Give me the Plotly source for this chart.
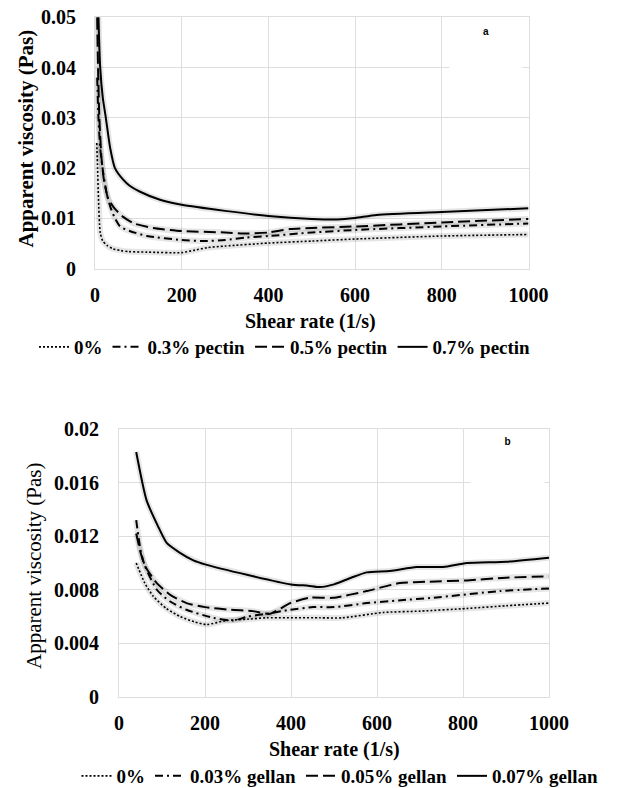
import plotly.graph_objects as go

# ---------------- data: panel a (pectin) ----------------
pectin_names = ["0%", "0.3% pectin", "0.5% pectin", "0.7% pectin"]
p0_x = [4, 6, 8, 12, 18, 27, 40, 60, 78, 120, 200, 230, 260, 300, 400, 500, 600, 800, 1000]
p0_y = [0.025, 0.020, 0.014, 0.0072, 0.0055, 0.0047, 0.0040, 0.0036, 0.0034, 0.0033, 0.0032, 0.0037,
        0.0042, 0.0045, 0.0051, 0.0055, 0.0059, 0.0065, 0.0068]
p3_x = [5, 8, 12, 19, 27, 35, 45, 58, 80, 120, 200, 250, 300, 350, 400, 500, 600, 800, 1000]
p3_y = [0.038, 0.030, 0.024, 0.019, 0.015, 0.0124, 0.0102, 0.0084, 0.0075, 0.0065, 0.0057, 0.0055,
        0.0057, 0.0062, 0.0065, 0.0072, 0.0077, 0.0084, 0.0090]
p5_x = [5, 7, 10, 15, 20, 30, 45, 65, 90, 134, 200, 300, 350, 400, 450, 500, 600, 800, 1000]
p5_y = [0.050, 0.040, 0.030, 0.022, 0.018, 0.014, 0.012, 0.0103, 0.0090, 0.0081, 0.0075, 0.0072,
        0.0070, 0.0072, 0.0079, 0.0081, 0.0084, 0.0092, 0.0099]
p7_x = [5, 8, 12, 18, 25, 35, 46, 65, 80, 104, 150, 200, 300, 400, 500, 560, 600, 650, 800, 1000]
p7_y = [0.065, 0.050, 0.040, 0.034, 0.030, 0.024, 0.020, 0.0177, 0.0165, 0.0153, 0.0137, 0.0127,
        0.0115, 0.0105, 0.0099, 0.0098, 0.0101, 0.0107, 0.0113, 0.0120]

# ---------------- data: panel b (gellan) ----------------
gellan_names = ["0%", "0.03% gellan", "0.05% gellan", "0.07% gellan"]
g0_x = [40, 60, 80, 110, 142, 175, 204, 250, 300, 343, 467, 520, 615, 700, 809, 900, 1000]
g0_y = [0.0100, 0.0085, 0.0075, 0.0066, 0.0060, 0.0056, 0.0054, 0.0057, 0.0058, 0.0059, 0.0059,
        0.0059, 0.0063, 0.0064, 0.0066, 0.0068, 0.0070]
g3_x = [40, 50, 60, 88, 120, 157, 219, 266, 300, 343, 398, 452, 500, 576, 650, 731, 886, 1000]
g3_y = [0.0132, 0.0110, 0.0098, 0.0080, 0.0071, 0.0065, 0.0059, 0.0057, 0.0060, 0.0062, 0.0065,
        0.0067, 0.0067, 0.0070, 0.0072, 0.0074, 0.0079, 0.0081]
g5_x = [40, 50, 60, 88, 120, 157, 200, 260, 312, 351, 398, 444, 498, 576, 653, 720, 809, 900, 1000]
g5_y = [0.0122, 0.0108, 0.0098, 0.0085, 0.0076, 0.0070, 0.0067, 0.0065, 0.0064, 0.0062, 0.0070,
        0.0074, 0.0074, 0.0079, 0.0085, 0.0086, 0.0087, 0.0089, 0.0090]
g7_x = [40, 64, 90, 111, 140, 173, 200, 300, 400, 440, 467, 500, 540, 576, 630, 692, 754, 809, 902, 1000]
g7_y = [0.0183, 0.0147, 0.0128, 0.0115, 0.0108, 0.0102, 0.0099, 0.0091, 0.0084, 0.0083, 0.0082,
        0.0084, 0.0089, 0.0093, 0.0094, 0.0097, 0.0097, 0.0100, 0.0101, 0.0104]

a_yticks = [0, 0.01, 0.02, 0.03, 0.04, 0.05]
a_yticktext = ["0", "0.01", "0.02", "0.03", "0.04", "0.05"]
b_yticks = [0, 0.004, 0.008, 0.012, 0.016, 0.02]
b_yticktext = ["0", "0.004", "0.008", "0.012", "0.016", "0.02"]
xticks = [0, 200, 400, 600, 800, 1000]

W, H = 622, 788
SERIF = "Liberation Serif"
GRID = "#dedede"
dashes = ["2px,2px", "8px,4px,2px,4px", "12px,5px", "solid"]
widths = [1.6, 2, 2, 2]

fig = go.Figure()

def add_panel(xs, ys, names, xa, ya, legend):
    for i, (x, y, n) in enumerate(zip(xs, ys, names)):
        fig.add_trace(go.Scatter(x=x, y=y, mode="lines", xaxis=xa, yaxis=ya,
                                 line=dict(color="rgba(0,0,0,0.10)", width=6, shape="spline", smoothing=0.6),
                                 showlegend=False, hoverinfo="skip"))
    for i, (x, y, n) in enumerate(zip(xs, ys, names)):
        fig.add_trace(go.Scatter(x=x, y=y, mode="lines", name=n, xaxis=xa, yaxis=ya, legend=legend,
                                 line=dict(color="black", width=widths[i], dash=dashes[i],
                                           shape="spline", smoothing=0.6)))

add_panel([p0_x, p3_x, p5_x, p7_x], [p0_y, p3_y, p5_y, p7_y], pectin_names, "x", "y", "legend")
add_panel([g0_x, g3_x, g5_x, g7_x], [g0_y, g3_y, g5_y, g7_y], gellan_names, "x2", "y2", "legend2")

def px_x(p):
    return p / W

def px_y(p):
    return 1 - p / H

tickfont = dict(family=SERIF, size=20, color="black", weight="bold")

axis_common = dict(showgrid=True, gridcolor=GRID, gridwidth=1, showline=True, linecolor=GRID,
                   linewidth=1, mirror=True, zeroline=False, ticks="", fixedrange=True,
                   automargin=False, tickfont=tickfont)

fig.update_layout(
    width=W, height=H, margin=dict(l=0, r=0, t=0, b=0, autoexpand=False),
    paper_bgcolor="white", plot_bgcolor="white",
    xaxis=dict(domain=[px_x(95), px_x(528.5)], anchor="y", range=[0, 1000], tickvals=xticks,
               ticklabelstandoff=8, **axis_common),
    yaxis=dict(domain=[px_y(268.7), px_y(17.3)], anchor="x", range=[0, 0.05], tickvals=a_yticks,
               ticktext=a_yticktext, ticklabelstandoff=14, **axis_common),
    xaxis2=dict(domain=[px_x(119), px_x(549)], anchor="y2", range=[0, 1000], tickvals=xticks,
                ticklabelstandoff=8, **axis_common),
    yaxis2=dict(domain=[px_y(696.7), px_y(429.3)], anchor="x2", range=[0, 0.02], tickvals=b_yticks,
                ticktext=b_yticktext, ticklabelstandoff=15, **axis_common),
    legend=dict(orientation="h", x=px_x(285), xanchor="center", y=px_y(347), yanchor="middle",
                font=dict(family=SERIF, size=19, color="black", weight="bold"),
                bgcolor="rgba(0,0,0,0)", traceorder="normal"),
    legend2=dict(orientation="h", x=px_x(340), xanchor="center", y=px_y(776), yanchor="middle",
                 font=dict(family=SERIF, size=19, color="black", weight="bold"),
                 bgcolor="rgba(0,0,0,0)", traceorder="normal"),
    showlegend=True,
)

ann = [
    dict(text="Shear rate (1/s)", x=px_x(310), y=px_y(321), xref="paper", yref="paper",
         showarrow=False, xanchor="center", yanchor="middle",
         font=dict(family=SERIF, size=20, color="black", weight="bold")),
    dict(text="Apparent viscosity (Pas)", x=px_x(25.5), y=px_y(139), xref="paper", yref="paper",
         showarrow=False, textangle=-90, xanchor="center", yanchor="middle",
         font=dict(family=SERIF, size=21, color="black", weight="bold")),
    dict(text="Shear rate (1/s)", x=px_x(334), y=px_y(749), xref="paper", yref="paper",
         showarrow=False, xanchor="center", yanchor="middle",
         font=dict(family=SERIF, size=20, color="black", weight="bold")),
    dict(text="Apparent viscosity (Pas)", x=px_x(34), y=px_y(566), xref="paper", yref="paper",
         showarrow=False, textangle=-90, xanchor="center", yanchor="middle",
         font=dict(family=SERIF, size=21, color="black")),
    dict(text="a", x=px_x(486), y=px_y(24), xref="paper", yref="paper", showarrow=False,
         xanchor="center", yanchor="top", width=70, height=52, valign="top", bgcolor="white",
         font=dict(family="Liberation Sans", size=10, color="black", weight="bold")),
    dict(text="b", x=px_x(507.5), y=px_y(434), xref="paper", yref="paper", showarrow=False,
         xanchor="center", yanchor="top", width=71, height=54, valign="top", bgcolor="white",
         font=dict(family="Liberation Sans", size=10, color="black", weight="bold")),
]
fig.update_layout(annotations=ann)

fig.write_html("out.html", config={"displayModeBar": False},
               post_script="document.body.style.margin='0';document.body.style.overflow='hidden';")
